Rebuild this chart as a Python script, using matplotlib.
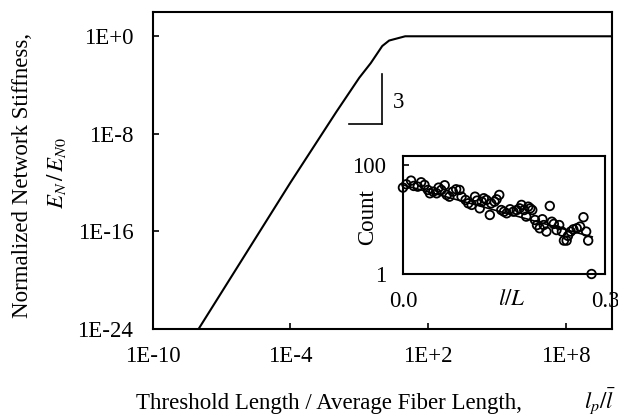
import numpy as np
import matplotlib
matplotlib.use("Agg")
import matplotlib.pyplot as plt

plt.rcParams['font.family'] = ['Liberation Serif', 'DejaVu Serif']
plt.rcParams['mathtext.fontset'] = 'stix'
plt.rcParams['font.size'] = 16.5

# main curve: stiffness vs threshold length (log10 values)
curve_logx = [-10, -8, -6, -4, -2, -1, -0.5, 0, 0.3, 1, 2, 4, 6, 8, 10]
curve_logy = [-30, -24, -18, -12, -6.2, -3.4, -2.2, -0.8, -0.35, 0, 0, 0, 0, 0, 0]

xtick_vals = [1e-10, 1e-4, 1e2, 1e8]
xtick_labels = ["1E-10", "1E-4", "1E+2", "1E+8"]
ytick_vals = [1e-24, 1e-16, 1e-8, 1e0]
ytick_labels = ["1E-24", "1E-16", "1E-8", "1E+0"]

# inset: fiber length distribution
inset_l = [0.0, 0.005, 0.012, 0.016, 0.022, 0.027, 0.032, 0.037, 0.040, 0.045,
           0.050, 0.053, 0.057, 0.062, 0.065, 0.069, 0.074, 0.079, 0.084, 0.087,
           0.093, 0.097, 0.102, 0.107, 0.110, 0.114, 0.117, 0.120, 0.124, 0.129,
           0.131, 0.136, 0.139, 0.143, 0.146, 0.150, 0.154, 0.159, 0.164, 0.169,
           0.173, 0.176, 0.180, 0.183, 0.186, 0.189, 0.192, 0.196, 0.199, 0.203,
           0.207, 0.209, 0.213, 0.218, 0.221, 0.224, 0.228, 0.232, 0.236, 0.239,
           0.243, 0.245, 0.249, 0.253, 0.258, 0.263, 0.268, 0.272, 0.275, 0.280]
inset_count = [38.4, 44.2, 51.6, 41.2, 40.0, 48.1, 43.0, 34.8, 30.2, 32.4,
               30.2, 38.4, 34.8, 42.4, 28.2, 26.2, 32.4, 35.8, 34.8, 26.2,
               22.8, 19.8, 18.5, 26.2, 22.2, 16.0, 21.2, 24.5, 22.8, 12.1,
               19.8, 21.2, 23.4, 28.2, 14.9, 13.9, 13.0, 15.4, 13.9, 14.9,
               16.0, 18.5, 14.9, 11.3, 17.2, 16.0, 14.9, 9.8, 7.9, 6.9,
               10.1, 7.9, 6.0, 17.7, 9.1, 8.3, 6.4, 7.9, 6.0, 4.1,
               4.1, 5.0, 6.0, 6.6, 6.9, 7.4, 11.0, 6.0, 4.1, 1.0]
trend_l = [0.0, 0.281]
trend_count = [43, 4.8]

fig = plt.figure(figsize=(6.18, 4.2), dpi=100)
ax = fig.add_axes([0.247, 0.2167, 0.743, 0.755])

ax.plot(10.0 ** np.array(curve_logx), 10.0 ** np.array(curve_logy), color='black', lw=1.5)
ax.set_xscale('log')
ax.set_yscale('log')
ax.set_xlim(1e-10, 1e10)
ax.set_ylim(1e-24, 1e2)
ax.set_xticks(xtick_vals)
ax.set_xticklabels(xtick_labels)
ax.set_yticks(ytick_vals)
ax.set_yticklabels(ytick_labels)
ax.minorticks_off()
ax.tick_params(direction='in', length=4, width=1.2, pad=12)
ax.tick_params(axis='y', pad=14)
for s in ax.spines.values():
    s.set_linewidth(1.5)

# slope triangle
ax.plot([10 ** -1.43, 1.0], [10 ** -7.2, 10 ** -7.2], color='black', lw=1.2)
ax.plot([1.0, 1.0], [10 ** -7.2, 10 ** -3.1], color='black', lw=1.2)
ax.text(10 ** 0.45, 10 ** -5.4, "3", ha='left', va='center')

fig.text(0.037, 0.582, "Normalized Network Stiffness,", rotation=90, ha='center', va='center')
fig.text(0.092, 0.588, r"$E_N\,/\,E_{N0}$", rotation=90, ha='center', va='center')
fig.text(0.533, 0.04, "Threshold Length / Average Fiber Length,", ha='center', va='center')
fig.text(0.971, 0.045, r"$l_p/\bar{l}$", ha='center', va='center')

# inset
ins = fig.add_axes([0.652, 0.3476, 0.327, 0.281])
ins.scatter(inset_l, inset_count, s=38, facecolors='none', edgecolors='black', linewidths=1.3,
            clip_on=False, zorder=3)
ins.plot(trend_l, trend_count, color='black', lw=1.2)
ins.set_yscale('log')
ins.set_xlim(0, 0.3)
ins.set_ylim(1, 146)
ins.set_xticks([0.0, 0.3])
ins.set_xticklabels(["0.0", "0.3"])
ins.set_yticks([1, 100])
ins.set_yticklabels(["1", "100"])
ins.minorticks_off()
ins.tick_params(direction='in', length=4, width=1.2, pad=12)
for s in ins.spines.values():
    s.set_linewidth(1.5)
ins.text(-0.173, 0.48, "Count", rotation=90, ha='center', va='center', transform=ins.transAxes)
ins.text(0.54, -0.22, r"$l/L$", ha='center', va='center', transform=ins.transAxes)

fig.savefig("out.png", dpi=100)
